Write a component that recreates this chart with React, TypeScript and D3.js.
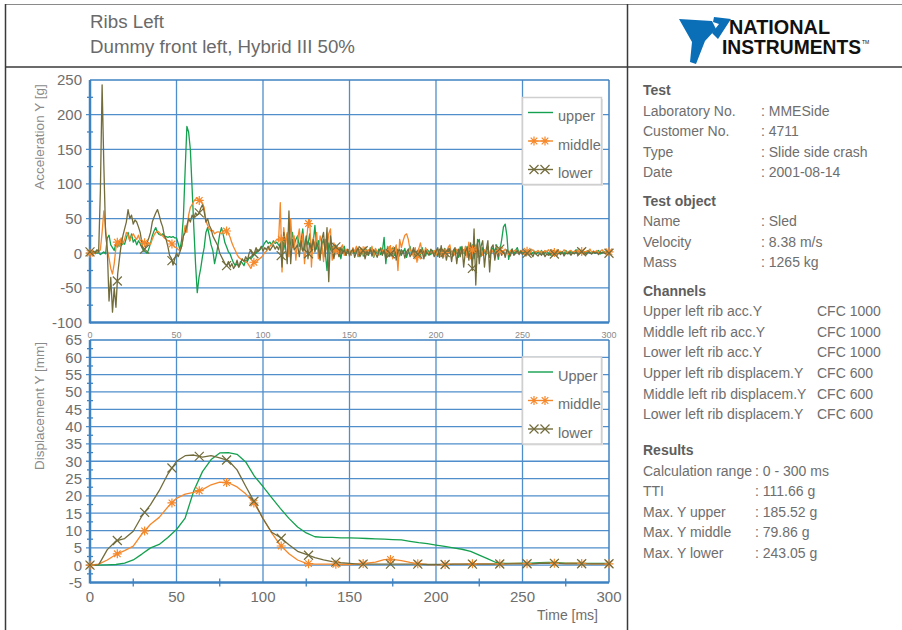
import React from "react";
import * as d3 from "d3";

// ---------- DATA ----------
const seriesNamesAcc = ["upper", "middle", "lower"];
const seriesNamesDisp = ["Upper", "middle", "lower"];

// Acceleration Y [g], sampled every 1 ms from 0 to 300 ms
const upperAcc = [
  0, 2, -1, 3, 0, 1, -2, 0, 2, -1,
  22, 26, 12, 8, 4, 14, 9, 17, 11, 14,
  13, 22, 30, 18, 28, 16, 20, 12, 18, 14,
  8, 4, 2, 0, 6, 15, 25, 32, 37, 30,
  27, 26, 28, 25, 24, 23, 24, 23, 24, 22,
  22, 14, 5, 20, 53, 120, 183, 175, 150, 95,
  38, -15, -57, -35, -22, -5, 8, 30, 37, 25,
  12, 4, -15, -3, 12, 28, 37, 27, 15, 9,
  2, -1, -8, -14, -18, -15, -20, -12, -14, -18,
  -10, -12, -6, -8, -5, -2, 0, 3, 4, 8,
  10, 15, 18, 14, 16, 12, 18, 14, 16, 12,
  10, 22, 5, 18, 28, 8, 15, 30, 12, 20,
  25, 10, 18, 35, 5, 20, 12, 28, 8, 15,
  40, 6, 18, -5, 12, 20, 2, -25, 15, 5,
  10, -5, 12, 3, 8, -8, 6, 10, -3, 5,
  4, -2, 6, 0, 8, -5, 3, 7, -4, 2,
  5, -3, 8, 1, -6, 4, 0, 6, -2, 3,
  23, -15, 10, -5, 4, 8, -3, 2, 6, -4,
  5, 0, 7, -6, 3, 10, -2, 4, -5, 2,
  6, -3, 8, 0, -4, 5, 2, -2, 4, 0,
  3, -5, 6, 1, -3, 7, -2, 4, 0, 3,
  -4, 6, 2, -6, 9, 0, 5, -3, 10, -2,
  4, 12, -8, 6, 15, 20, -5, 8, 3, -2,
  10, -6, 4, 8, 2, 12, -9, 5, 20, 38,
  42, 25, -9, 3, 6, -2, 4, 8, 0, 3,
  2, -1, 3, 0, 4, -2, 1, 3, -1, 2,
  0, 4, -2, 1, 3, 0, -3, 2, 4, -1,
  1, 3, 0, 2, -2, 4, 1, -1, 3, 0,
  2, 5, -1, 1, 3, 0, -2, 2, 4, 1,
  -1, 3, 0, 2, 4, -1, 1, 3, 0, 2, 1,
];

const middleAcc = [
  0, 3, 2, -1, 4, 2, 5, 30, 61, 35,
  5, -7, -22, -30, -15, 8, 18, 10, 22, 14,
  20, 30, 26, 18, 24, 28, 23, 20, 26, 18,
  18, 14, 16, 12, 15, 13, 20, 26, 30, 32,
  30, 27, 25, 22, 20, 18, 18, 14, 12, 9,
  8, 5, 4, 10, 25, 40, 30, 55, 66, 70,
  75, 78, 80, 76, 77, 72, 66, 47, 40, 35,
  32, 33, 28, 30, 31, 30, 28, 32, 33, 32,
  28, 23, 15, 9, 4, -2, -6, -8, -10, -11,
  -12, -14, -18, -22, -16, -12, -14, -10, -8, -6,
  -3, 1, 3, 6, 10, 13, 15, 17, 20, 18,
  73, -27, 37, 10, 30, -5, 50, 8, 25, -10,
  20, 35, 5, 28, -15, 15, 40, 49, -20, 22,
  10, 30, -8, 25, 15, -12, 20, 5, 28, 35,
  -10, 15, 3, 10, -5, 8, 12, -3, 6, 2,
  5, -3, 8, 2, 10, -4, 6, 0, 4, 9,
  -2, 5, 3, 10, -5, 7, 2, -3, 8, 4,
  0, 6, -4, 10, 3, -8, 5, 12, -25, 20,
  8, 18, 26, 28, 20, 5, 2, -5, 8, -13,
  6, 15, 2, -4, 8, 3, -2, 5, 0, 4,
  -3, 5, 2, -4, 6, 0, 3, 8, 12, -2,
  4, -3, 6, 2, -5, 8, 0, 10, -6, 16,
  -8, 5, 3, 12, -6, 2, 8, -3, 5, 0,
  4, -2, 6, 1, -3, 5, 2, 4, 0, 3,
  6, 2, -2, 4, 1, 3, 5, 0, 2, 4,
  3, 1, 4, 2, 0, 3, 5, 1, 2, 4,
  1, 3, 0, 4, 2, 5, 1, 3, 2, 0,
  4, 2, 3, 1, 5, 2, 0, 3, 4, 1,
  3, 2, 5, 0, 2, 4, 1, 3, 2, 6,
  1, 3, 2, 4, 0, 3, 5, 2, 1, 3, 2,
];

const lowerAcc = [
  2, -1, 3, 0, 5, 2, 90, 243, 127, 30,
  5, -69, -35, -85, -50, -78, -30, -8, 12, 25,
  35, 45, 63, 50, 55, 42, 48, 45, 38, 30,
  15, 3, 8, 15, 22, 30, 45, 52, 58, 63,
  55, 45, 38, 25, 20, 10, -3, -7, -17, -8,
  0, -5, 2, 10, 25, 30, 40, 50, 45, 55,
  50, 58, 55, 57, 65, 70, 60, 45, 50, 40,
  35, 25, 20, 15, 10, 0, -5, -10, -15, -18,
  -12, -20, -15, -22, -18, -10, -20, -15, -8, -12,
  -5, -10, 0, 5, -3, 0, 8, 2, 5, 10,
  3, 8, 5, 10, 4, 8, 12, 6, 10, 5,
  15, -20, 30, 10, -15, 61, -15, 20, 5, 8,
  12, -5, 18, 3, 10, 25, -8, 15, 5, 20,
  2, 15, 8, -10, 20, 30, -5, 37, -41, 25,
  5, -8, 10, 2, -5, 8, 0, 5, -3, 6,
  -4, 3, 6, -6, 2, 8, -5, 0, 4, -8,
  3, -2, 6, -4, 5, 0, -6, 3, 7, -3,
  5, -8, 2, 6, -4, 0, 8, -10, 3, 5,
  -3, 4, -7, 2, 6, -5, 0, 8, -4, 3,
  -6, 5, 2, -8, 4, 0, -3, 6, 2, -5,
  3, 8, -6, 11, -7, 5, -10, 2, 6, -12,
  4, 8, -15, 6, -5, 10, -20, 3, 8, -10,
  15, -25, 35, -46, 20, -15, 10, 18, -20, 5,
  18, -27, 8, 12, -10, 5, -5, 8, -3, 4,
  -6, 5, 2, -4, 6, -3, 0, 4, -2, 3,
  -2, 1, -4, 2, -3, 0, -5, 1, -2, -4,
  0, -3, 2, -5, -1, -3, 1, -4, -2, 0,
  -3, 1, -2, 2, -4, 0, -1, 2, -3, 1,
  -1, 2, -2, 0, 3, -1, 1, -2, 2, 0,
  -1, 2, 0, 1, -2, 2, 0, 1, -1, 2, 0,
];

// Displacement Y [mm], sampled every 5 ms from 0 to 300 ms
const upperDisp = [
  0, 0, 0.1, 0.2, 0.6, 1.5, 3.2, 5.0, 6.0, 8.0,
  10.3, 13.6, 21.5, 27.0, 30.5, 32.4, 32.5, 32.0, 29.8, 25.7,
  22.7, 19.5, 16.4, 13.5, 11.0, 9.3, 8.2, 8.0, 8.0, 7.9,
  7.9, 7.8, 7.7, 7.6, 7.5, 7.4, 7.3, 6.9, 6.5, 6.2,
  5.8, 5.4, 5.0, 4.6, 4.0, 2.9, 1.8, 0.7, 0.5, 0.5,
  0.6, 0.6, 0.7, 0.8, 0.7, 0.6, 0.6, 0.5, 0.5, 0.5, 0.5,
];
const middleDisp = [
  0, 0.3, 1.5, 3.1, 4.2, 5.5, 9.0, 11.8, 13.8, 16.8,
  19.3, 20.5, 21.0, 21.8, 23.2, 24.0, 23.8, 22.6, 20.6, 17.8,
  13.5, 9.3, 5.8, 3.3, 1.5, 0.5, 0.3, 0.3, 0.3, 0.2,
  0.2, 0.4, 0.6, 0.9, 1.6, 1.7, 1.3, 0.8, 0.4, 0.2,
  0.1, 0.2, 0.3, 0.3, 0.4, 0.4, 0.4, 0.4, 0.4, 0.5,
  0.5, 0.4, 0.5, 0.6, 0.5, 0.5, 0.6, 0.5, 0.4, 0.4, 0.4,
];
const lowerDisp = [
  0, 0.1, 4.5, 7.0, 7.7, 9.8, 14.2, 17.5, 21.5, 26.3,
  30.0, 31.6, 31.8, 31.2, 31.6, 31.0, 30.2, 27.5, 22.8, 18.2,
  13.4, 9.5, 8.0, 5.9, 4.0, 3.1, 2.2, 1.5, 1.0, 0.7,
  0.5, 0.3, 0.3, 0.3, 0.3, 0.3, 0.3, 0.3, 0.3, 0.2,
  0.2, 0.2, 0.3, 0.3, 0.3, 0.3, 0.3, 0.3, 0.4, 0.4,
  0.4, 0.4, 0.5, 0.5, 0.5, 0.4, 0.4, 0.4, 0.4, 0.4, 0.4,
];

const accYTicks = [250, 200, 150, 100, 50, 0, -50, -100];
const dispYTicks = [65, 60, 55, 50, 45, 40, 35, 30, 25, 20, 15, 10, 5, 0, -5];
const timeTicks = [0, 50, 100, 150, 200, 250, 300];

const infoTest = [
  ["Laboratory No.", ": MMESide"],
  ["Customer No.", ": 4711"],
  ["Type", ": Slide side crash"],
  ["Date", ": 2001-08-14"],
];
const infoObject = [
  ["Name", ": Sled"],
  ["Velocity", ": 8.38 m/s"],
  ["Mass", ": 1265 kg"],
];
const infoChannels = [
  ["Upper left rib acc.Y", "CFC 1000"],
  ["Middle left rib acc.Y", "CFC 1000"],
  ["Lower left rib acc.Y", "CFC 1000"],
  ["Upper left rib displacem.Y", "CFC 600"],
  ["Middle left rib displacem.Y", "CFC 600"],
  ["Lower left rib displacem.Y", "CFC 600"],
];
const infoResults = [
  ["Calculation range", ": 0 - 300 ms"],
  ["TTI", ": 111.66 g"],
  ["Max. Y upper", ": 185.52 g"],
  ["Max. Y middle", ": 79.86 g"],
  ["Max. Y lower", ": 243.05 g"],
];

// ---------- STYLE ----------
const COLORS = ["#14a04e", "#f5882a", "#726c3c"];
const GRID = "#4f8ecb";
const AXIS = "#3f82c2";
const TXT = "#6e6e6e";
const FONT = "'Liberation Sans', Arial, Helvetica, sans-serif";

const X0 = 90, X1 = 609;
const xScale = d3.scaleLinear().domain([0, 300]).range([X0, X1]);
const yAcc = d3.scaleLinear().domain([-100, 250]).range([322.5, 80]);
const yDisp = d3.scaleLinear().domain([-5, 65]).range([582.5, 340]);

const markerTimes = d3.range(20).map((k) => (k * 300) / 19);

function interp(arr: number[], step: number, t: number) {
  const i = t / step;
  const a = Math.floor(i);
  const b = Math.min(arr.length - 1, a + 1);
  const f = i - a;
  return arr[Math.min(a, arr.length - 1)] * (1 - f) + arr[b] * f;
}

function Marker({ kind, x, y, color }: { kind: number; x: number; y: number; color: string }) {
  if (kind === 1) {
    return (
      <path
        transform={`translate(${x},${y})`}
        d="M-4.5,0H4.5M0,-4.5V4.5M-3.3,-3.3L3.3,3.3M-3.3,3.3L3.3,-3.3"
        stroke={color}
        strokeWidth={1.2}
        fill="none"
      />
    );
  }
  if (kind === 2) {
    return (
      <path
        transform={`translate(${x},${y})`}
        d="M-4.5,-4.5L4.5,4.5M-4.5,4.5L4.5,-4.5"
        stroke={color}
        strokeWidth={1.2}
        fill="none"
      />
    );
  }
  return null;
}

function Legend({ y0, names }: { y0: number; names: string[] }) {
  const rows = [15, 43.5, 72];
  return (
    <g>
      <rect x={524} y={y0 + 1.5} width={79} height={87} fill="#e6e6e6" />
      <rect x={522.5} y={y0} width={79} height={87} fill="#fff" stroke="#cfcfcf" strokeWidth={1.5} />
      {names.map((n, i) => {
        const ly = y0 + rows[i];
        return (
          <g key={n}>
            <line x1={528} x2={553} y1={ly} y2={ly} stroke={COLORS[i]} strokeWidth={1.4} />
            {i > 0 && <Marker kind={i} x={534} y={ly} color={COLORS[i]} />}
            {i > 0 && <Marker kind={i} x={545} y={ly} color={COLORS[i]} />}
            <text x={558} y={ly + 8.5} fontSize={14.5} fill={TXT} fontFamily={FONT}>
              {n}
            </text>
          </g>
        );
      })}
    </g>
  );
}

function Chart({
  yScale,
  yTicks,
  gridYs,
  minorYs,
  series,
  step,
  legendY,
  names,
  bigXLabels,
  yLabel,
  yLabelCenter,
  tickFont,
}: any) {
  const [yb, yt] = yScale.range();
  const line = d3
    .line<number>()
    .x((_, i) => xScale(i * step))
    .y((d) => yScale(d));
  return (
    <g>
      {gridYs.map((v: number) => (
        <line key={"gy" + v} x1={86} x2={X1} y1={yScale(v)} y2={yScale(v)} stroke={GRID} strokeWidth={1.3} />
      ))}
      {[50, 100, 150, 200, 250].map((t) => (
        <line key={"gx" + t} x1={xScale(t)} x2={xScale(t)} y1={yt} y2={yb} stroke={GRID} strokeWidth={1.3} />
      ))}
      {minorYs.map((v: number) => (
        <line key={"my" + v} x1={87} x2={93} y1={yScale(v)} y2={yScale(v)} stroke={AXIS} strokeWidth={1.3} />
      ))}
      {bigXLabels &&
        [25, 75, 125, 175, 225, 275].map((t) => (
          <line key={"mx" + t} x1={xScale(t)} x2={xScale(t)} y1={yb - 4} y2={yb + 4} stroke={AXIS} strokeWidth={1.3} />
        ))}
      <line x1={X0} x2={X1} y1={yt} y2={yt} stroke={AXIS} strokeWidth={1.5} />
      <line x1={X1} x2={X1} y1={yt} y2={yb} stroke={AXIS} strokeWidth={1.5} />
      <line x1={X0} x2={X0} y1={yt} y2={yb + 1} stroke={AXIS} strokeWidth={2.5} />
      <line x1={X0} x2={X1} y1={yb} y2={yb} stroke={AXIS} strokeWidth={2.5} />
      {series.map((s: number[], i: number) => (
        <path key={"s" + i} d={line(s) || ""} fill="none" stroke={COLORS[i]} strokeWidth={1.3} strokeLinejoin="round" />
      ))}
      {series.map((s: number[], i: number) =>
        i === 0
          ? null
          : markerTimes.map((t) => (
              <Marker key={"m" + i + "_" + t} kind={i} x={xScale(t)} y={yScale(interp(s, step, t))} color={COLORS[i]} />
            ))
      )}
      {yTicks.map((v: number) => (
        <text
          key={"yl" + v}
          x={82}
          y={yScale(v) + tickFont * 0.36}
          textAnchor="end"
          fontSize={tickFont}
          fill={TXT}
          fontFamily={FONT}
        >
          {v}
        </text>
      ))}
      {timeTicks.map((t) =>
        bigXLabels ? (
          <text key={"xl" + t} x={xScale(t)} y={yb + 19.5} textAnchor="middle" fontSize={15} fill={TXT} fontFamily={FONT}>
            {t}
          </text>
        ) : (
          <text key={"xl" + t} x={xScale(t)} y={yb + 15.5} textAnchor="middle" fontSize={9} fill="#8a8a8a" fontFamily={FONT}>
            {t}
          </text>
        )
      )}
      <text
        transform={`translate(44,${yLabelCenter}) rotate(-90)`}
        textAnchor="middle"
        fontSize={13.5}
        fill="#8a8a8a"
        fontFamily={FONT}
      >
        {yLabel}
      </text>
      <Legend y0={legendY} names={names} />
    </g>
  );
}

function InfoBlock({ title, rows, y0, valueX }: { title: string; rows: string[][]; y0: number; valueX: number }) {
  return (
    <g fontFamily={FONT}>
      <text x={643} y={y0} fontSize={14} fontWeight="bold" fill="#5e5e5e">
        {title}
      </text>
      {rows.map((r, i) => (
        <g key={r[0]}>
          <text x={643} y={y0 + 20.6 * (i + 1)} fontSize={14} fill={TXT}>
            {r[0]}
          </text>
          <text x={valueX} y={y0 + 20.6 * (i + 1)} fontSize={14} fill={TXT}>
            {r[1]}
          </text>
        </g>
      ))}
    </g>
  );
}

export default function App() {
  const accMinor = d3.range(-75, 250, 50);
  const dispMinor = d3.range(-2.5, 65, 5);
  return (
    <svg
      width={902}
      height={630}
      style={{ position: "absolute", left: 0, top: 0, background: "#fff" }}
    >
      <rect x={0} y={0} width={902} height={630} fill="#fff" />
      <line x1={5} x2={902} y1={4.5} y2={4.5} stroke="#8a8a8a" strokeWidth={1} />
      <line x1={5} x2={902} y1={67} y2={67} stroke="#3a3a3a" strokeWidth={1.5} />
      <line x1={5.5} x2={5.5} y1={4} y2={630} stroke="#3a3a3a" strokeWidth={1.5} />
      <line x1={627.5} x2={627.5} y1={4} y2={630} stroke="#3a3a3a" strokeWidth={1.5} />

      <text x={90} y={28} fontSize={17.5} fill="#6a6a6a" fontFamily={FONT} textLength={74} lengthAdjust="spacingAndGlyphs">
        Ribs Left
      </text>
      <text x={90} y={53} fontSize={17.5} fill="#6a6a6a" fontFamily={FONT} textLength={265} lengthAdjust="spacingAndGlyphs">
        Dummy front left, Hybrid III 50%
      </text>

      <g>
        <path d="M679,19 L712,21 L716,29 L705,41 L696,64 L690,62 L692,42 Z" fill="#0b6fb8" />
        <path d="M714,17 L731,19 L718,39 L712,33 L719,24 L713,22 Z" fill="#0b6fb8" />
        <text
          x={729}
          y={33.5}
          fontSize={19.5}
          fontWeight="bold"
          fill="#111"
          textLength={101}
          lengthAdjust="spacingAndGlyphs"
          fontFamily="'Liberation Sans Narrow', 'Arial Narrow', 'Liberation Sans', Arial, sans-serif"
        >
          NATIONAL
        </text>
        <text
          x={722}
          y={54}
          fontSize={19.5}
          fontWeight="bold"
          fill="#111"
          textLength={139}
          lengthAdjust="spacingAndGlyphs"
          fontFamily="'Liberation Sans Narrow', 'Arial Narrow', 'Liberation Sans', Arial, sans-serif"
        >
          INSTRUMENTS
        </text>
        <text x={862} y={44} fontSize={5} fill="#111" fontFamily={FONT}>
          TM
        </text>
      </g>

      <Chart
        yScale={yAcc}
        yTicks={accYTicks}
        gridYs={[-50, 0, 50, 100, 150, 200]}
        minorYs={accMinor}
        series={[upperAcc, middleAcc, lowerAcc]}
        step={1}
        legendY={97.5}
        names={seriesNamesAcc}
        bigXLabels={false}
        yLabel="Acceleration Y [g]"
        yLabelCenter={137}
        tickFont={15}
      />
      <Chart
        yScale={yDisp}
        yTicks={dispYTicks}
        gridYs={d3.range(0, 65, 5)}
        minorYs={dispMinor}
        series={[upperDisp, middleDisp, lowerDisp]}
        step={5}
        legendY={357}
        names={seriesNamesDisp}
        bigXLabels={true}
        yLabel="Displacement Y [mm]"
        yLabelCenter={406}
        tickFont={15}
      />
      <text x={598} y={620} textAnchor="end" fontSize={14} fill={TXT} fontFamily={FONT}>
        Time [ms]
      </text>

      <InfoBlock title="Test" rows={infoTest} y0={95} valueX={761} />
      <InfoBlock title="Test object" rows={infoObject} y0={205.5} valueX={761} />
      <InfoBlock title="Channels" rows={infoChannels} y0={295.5} valueX={817} />
      <InfoBlock title="Results" rows={infoResults} y0={455} valueX={755} />
    </svg>
  );
}
